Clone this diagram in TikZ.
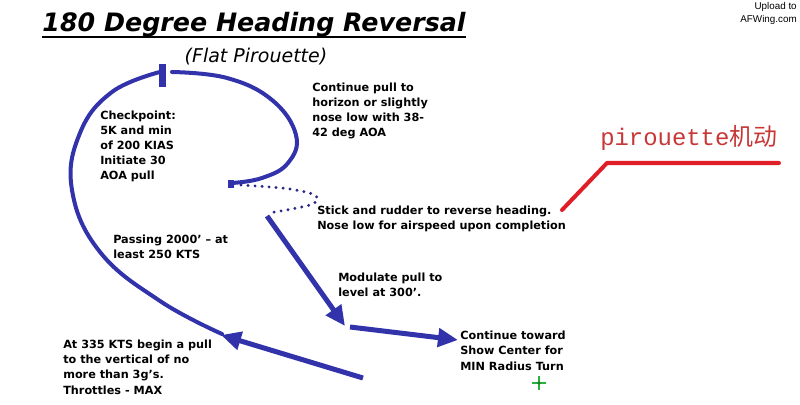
\documentclass[tikz,border=0pt]{standalone}
\usepackage{fontspec}
\setmainfont{DejaVu Sans}
\newfontfamily\wmfont{Liberation Sans}
\newfontfamily\monofont{Liberation Mono}
\newfontfamily\cjk{Noto Sans CJK SC}
\usepackage{tikz}
\usetikzlibrary{arrows.meta}
\usetikzlibrary{positioning}

\definecolor{jet}{RGB}{50,50,170}
\definecolor{remarkred}{RGB}{224,30,40}
\definecolor{remarktext}{RGB}{200,55,55}
\definecolor{showgreen}{RGB}{40,180,60}

\tikzset{
  track/.style={jet,line width=2.85pt,line cap=round},
  leg/.style={jet,line width=3.56pt,-{Triangle[length=0.5cm,width=0.45cm]}},
  slide/.style={jet!80!black,line width=2.3pt,line cap=round,dash pattern=on 0pt off 5pt}
}

\begin{document}
\begin{tikzpicture}[x=0.025cm,y=-0.025cm]
\useasboundingbox (0,0) rectangle (800,405);

% heading
\node[anchor=base,inner sep=0,font=\fontsize{18}{22}\selectfont\bfseries\itshape]
  (title) at (254,32) {180 Degree Heading Reversal};
\draw[line width=1.42pt] ([yshift=-3.5pt]title.base west) -- ([yshift=-3.5pt]title.base east);
\node[anchor=base,inner sep=0,font=\fontsize{13.5}{16}\selectfont\itshape]
  (sub) at (256,63) {(Flat Pirouette)};
\node[anchor=north east,inner sep=0,align=right,font=\wmfont\fontsize{7}{9}\selectfont]
  (upl) at (797,2) {Upload to\\AFWing.com};

% flight path
\coordinate (a0) at (222,334);
\coordinate (a1) at (160,72);
\coordinate (b0) at (172,72);
\coordinate (b1) at (232,183);
\draw[track] plot[smooth,tension=0.7] coordinates
  {(a0) (160,301) (100,252) (72,190) (80,133) (112,92) (a1)};
\fill[jet] (159,64) rectangle (166,87);
\draw[track] plot[smooth,tension=0.7] coordinates
  {(b0) (227,78) (272,100) (296,135) (288,163) (262,178) (b1)};
\fill[jet] (228,180) rectangle (234,188);

\coordinate (s0) at (241,185);
\coordinate (s1) at (268,213);
\draw[slide] plot[smooth,tension=0.6] coordinates
  {(s0) (290,189) (316,196) (310,205) (s1)};

\coordinate (c0) at (267,216);
\coordinate (c1) at (345,326);
\coordinate (d0) at (350,327);
\coordinate (d1) at (458,340);
\coordinate (e0) at (363,378);
\coordinate (e1) at (221,335);
\draw[leg] (c0) -- (c1);
\draw[leg] (d0) -- (d1);
\draw[leg] (e0) -- (e1);

% notes (placed by the baseline of their last line)
\begin{scope}[every node/.style={anchor=base west,inner sep=0,align=left,
  font=\fontsize{8}{10.67}\selectfont\bfseries}]
\node (chk) at (100,180) {Checkpoint:\\5K and min\\of 200 KIAS\\Initiate 30\\AOA pull};
\node (hor) at (312,137) {Continue pull to\\horizon or slightly\\nose low with 38-\\42 deg AOA};
\node (stk) at (317,230) {Stick and rudder to reverse heading.\\Nose low for airspeed upon completion};
\node (pas) at (113,259) {Passing 2000’ – at\\least 250 KTS};
\node (mod) at (338,297) {Modulate pull to\\level at 300’.};
\node (shw) at (460,370) {Continue toward\\Show Center for\\MIN Radius Turn};
\node (kts) at (63,394) {At 335 KTS begin a pull\\to the vertical of no\\more than 3g’s.\\Throttles - MAX};
\end{scope}

% red remark
\node[anchor=base west,inner sep=0,text=remarktext,font=\fontsize{17}{20}\selectfont]
  (rem) at (600,146) {\monofont pirouette\cjk 机动};
\coordinate (r0) at (562,210);
\coordinate (r1) at (607,163);
\coordinate (r2) at (779,163);
\draw[remarkred,line width=2.85pt,line cap=round,line join=round] (r0) -- (r1) -- (r2);

% show center
\coordinate (sc) at (539,383);
\draw[showgreen,line width=1.07pt] ([xshift=-5pt]sc) -- ([xshift=5pt]sc);
\draw[showgreen,line width=1.07pt] ([yshift=-5pt]sc) -- ([yshift=5pt]sc);
\fill[showgreen!70!black] (sc) circle (1.4pt);
\end{tikzpicture}
\end{document}
